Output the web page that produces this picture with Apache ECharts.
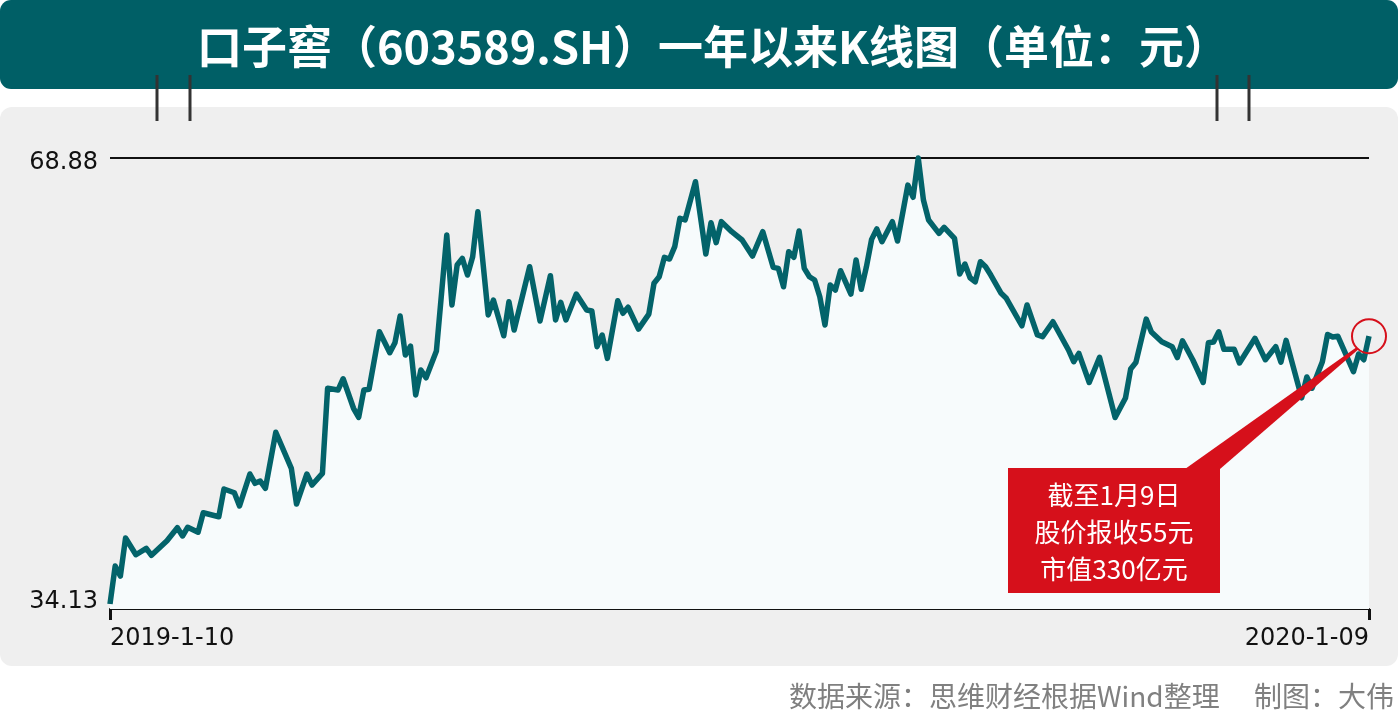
<!DOCTYPE html>
<html>
<head>
<meta charset="utf-8">
<script src="https://cdn.jsdelivr.net/npm/echarts@6/dist/echarts.min.js"></script>
<style>
html,body{margin:0;padding:0;background:#ffffff;}
#chart{width:1400px;height:722px;}
</style>
</head>
<body>
<div id="chart"></div>
<script>
// ---- data (trading-day index, closing price in 元) ----
const dayIdx = [
  0,1,2,3,5,7,8,11,13,14,
  15,17,18,21,22,24,25,27,28,29,
  30,32,35,36,38,39,41,42,44,45,
  47,48,49,50,52,54,55,56,57,58,
  59,60,61,63,65,66,67,68,69,70,
  71,73,74,76,77,78,81,83,85,86,
  87,88,90,92,93,94,95,96,98,99,
  100,102,104,105,106,107,108,109,110,111,
  113,115,116,117,118,120,122,124,126,128,
  129,130,131,132,133,134,135,136,137,138,
  139,140,141,143,144,145,146,147,148,149,
  151,152,154,155,156,157,158,160,161,163,
  164,165,166,167,168,169,170,172,173,176,
  177,179,180,182,185,186,187,189,191,194,
  196,197,198,200,201,203,205,206,207,209,
  211,212,213,214,215,217,218,221,223,225,
  226,227,230,231,232,234,235,236,237,240,
  241,242,243
];
const price = [
  34.13,37.09,36.31,39.27,37.97,38.47,37.92,39.06,40.07,39.43,
  40.11,39.72,41.24,40.93,43.09,42.80,41.77,44.26,43.53,43.71,
  43.14,47.51,44.70,41.92,44.26,43.40,44.31,50.94,50.80,51.68,
  49.38,48.68,50.80,50.86,55.34,53.71,54.49,56.57,53.53,54.23,
  50.41,52.36,51.76,53.84,62.88,57.43,60.54,61.06,59.76,61.19,
  64.69,56.65,57.81,55.03,57.68,55.48,60.41,56.18,59.71,56.26,
  57.63,56.26,58.28,57.04,56.96,54.18,55.09,53.27,57.76,56.78,
  57.25,55.55,56.72,59.12,59.63,61.14,61.01,61.97,64.18,64.05,
  67.03,61.40,63.84,62.28,63.92,63.14,62.49,61.24,63.14,60.36,
  60.28,58.85,61.58,61.14,63.19,60.28,59.63,59.37,58.07,55.87,
  58.98,58.59,60.10,58.28,60.93,58.65,60.41,62.54,63.35,62.36,
  63.92,62.41,66.77,65.82,68.88,65.61,64.05,63.01,63.48,62.62,
  59.84,60.62,59.55,59.24,60.80,60.41,59.76,58.34,57.95,55.81,
  57.43,55.09,54.96,56.12,53.92,53.01,53.66,51.39,53.35,48.66,
  50.18,52.44,52.94,56.33,55.32,54.57,54.18,53.33,54.64,53.14,
  51.39,54.48,54.54,55.34,53.97,53.97,52.91,54.83,53.16,54.18,
  52.97,54.67,50.19,51.82,50.94,53.01,55.13,54.93,54.99,52.23,
  53.61,53.16,55.00
];
const xTickLabels = ['2019-1-10', '2020-1-09'];
const yMin = 34.13, yMax = 68.88;
const titleText = '口子窖（603589.SH）一年以来K线图（单位：元）';
const noteLines = ['截至1月9日', '股价报收55元', '市值330亿元'];
const sourceText = '数据来源：思维财经根据Wind整理　 制图：大伟';

const lastDay = dayIdx[dayIdx.length - 1];
const seriesData = dayIdx.map((d, i) => [d, price[i]]);

const RED = '#d6101b';
const chart = echarts.init(document.getElementById('chart'), null, {renderer: 'canvas'});

const baseGraphics = [
  {type: 'rect', z: -10, shape: {x: 0, y: 107, width: 1398, height: 559, r: 12}, style: {fill: '#efefef'}},
  {type: 'rect', z: -10, shape: {x: 0, y: 0, width: 1398, height: 89, r: 11}, style: {fill: '#005f66'}},
  {type: 'text', z: 10, style: {text: titleText, x: 713, y: 47, align: 'center', verticalAlign: 'middle',
    fill: '#ffffff', font: 'bold 45px "Noto Sans CJK SC", sans-serif'}},
  {type: 'rect', z: 10, shape: {x: 155.5, y: 75, width: 3, height: 46}, style: {fill: '#333333'}},
  {type: 'rect', z: 10, shape: {x: 188.5, y: 75, width: 3, height: 46}, style: {fill: '#333333'}},
  {type: 'rect', z: 10, shape: {x: 1215.5, y: 75, width: 3, height: 46}, style: {fill: '#333333'}},
  {type: 'rect', z: 10, shape: {x: 1247.5, y: 75, width: 3, height: 46}, style: {fill: '#333333'}},
  {type: 'text', z: 10, style: {text: sourceText, x: 1394, y: 696, align: 'right', verticalAlign: 'middle',
    fill: '#808080', font: '28px "Noto Sans CJK SC", sans-serif'}}
];

chart.setOption({
  animation: false,
  backgroundColor: '#ffffff',
  grid: {left: 110, right: 31, top: 158, bottom: 118, containLabel: false},
  xAxis: {
    type: 'value', min: 0, max: lastDay, interval: lastDay,
    offset: 5,
    axisLine: {show: true, lineStyle: {color: '#111111', width: 2}},
    axisTick: {show: true, length: 11, lineStyle: {color: '#111111', width: 3}},
    splitLine: {show: false},
    axisLabel: {
      show: true, margin: 18, color: '#111111', fontSize: 24, fontFamily: 'DejaVu Sans',
      alignMinLabel: 'left', alignMaxLabel: 'right',
      formatter: function (v) { return v === 0 ? xTickLabels[0] : (v === lastDay ? xTickLabels[1] : ''); }
    }
  },
  yAxis: {
    type: 'value', min: yMin, max: yMax, interval: +(yMax - yMin).toFixed(2),
    axisLine: {show: false}, axisTick: {show: false},
    splitLine: {show: true, lineStyle: {color: ['rgba(0,0,0,0)', '#111111'], width: 2}},
    axisLabel: {
      margin: 12, color: '#111111', fontSize: 24, fontFamily: 'DejaVu Sans',
      formatter: function (v) {
        const s = (+v).toFixed(2);
        return Math.abs(v - yMax) < 0.01 ? '{t|' + s + '}' : '{b|' + s + '}';
      },
      rich: {
        t: {fontSize: 24, fontFamily: 'DejaVu Sans', color: '#111111', padding: [10, 0, 0, 0]},
        b: {fontSize: 24, fontFamily: 'DejaVu Sans', color: '#111111', padding: [0, 0, 5, 0]}
      }
    }
  },
  series: [{
    type: 'line', data: seriesData, symbol: 'none', clip: false, z: 3,
    lineStyle: {color: '#03636a', width: 5.5, join: 'round'},
    areaStyle: {color: '#f7fbfc', opacity: 1, origin: 33.74},
    markPoint: {
      symbol: 'circle', symbolSize: 34, silent: true,
      itemStyle: {color: 'rgba(0,0,0,0)', borderColor: RED, borderWidth: 2},
      label: {show: false},
      data: [{coord: [lastDay, price[price.length - 1]]}]
    }
  }],
  graphic: baseGraphics
});

// callout box and wedge pointing at the last point
const p = chart.convertToPixel({gridIndex: 0}, [lastDay, price[price.length - 1]]);
const tipX = p[0] - 12, tipY = p[1] + 12;
const boxX = 1008, boxY = 468, boxW = 212, boxH = 125;
const noteGraphics = [
  {type: 'polygon', z: 20, shape: {points: [[1185, boxY + 1], [boxX + boxW, boxY + 1], [tipX + 1.5, tipY + 1], [tipX - 0.5, tipY - 1]]},
    style: {fill: RED}},
  {type: 'rect', z: 20, shape: {x: boxX, y: boxY, width: boxW, height: boxH}, style: {fill: RED}}
];
noteLines.forEach((t, i) => {
  noteGraphics.push({type: 'text', z: 21, style: {text: t, x: boxX + boxW / 2, y: 495 + i * 37,
    align: 'center', verticalAlign: 'middle', fill: '#ffffff', font: '26px "Noto Sans CJK SC", sans-serif'}});
});
chart.setOption({graphic: baseGraphics.concat(noteGraphics)});
</script>
</body>
</html>
